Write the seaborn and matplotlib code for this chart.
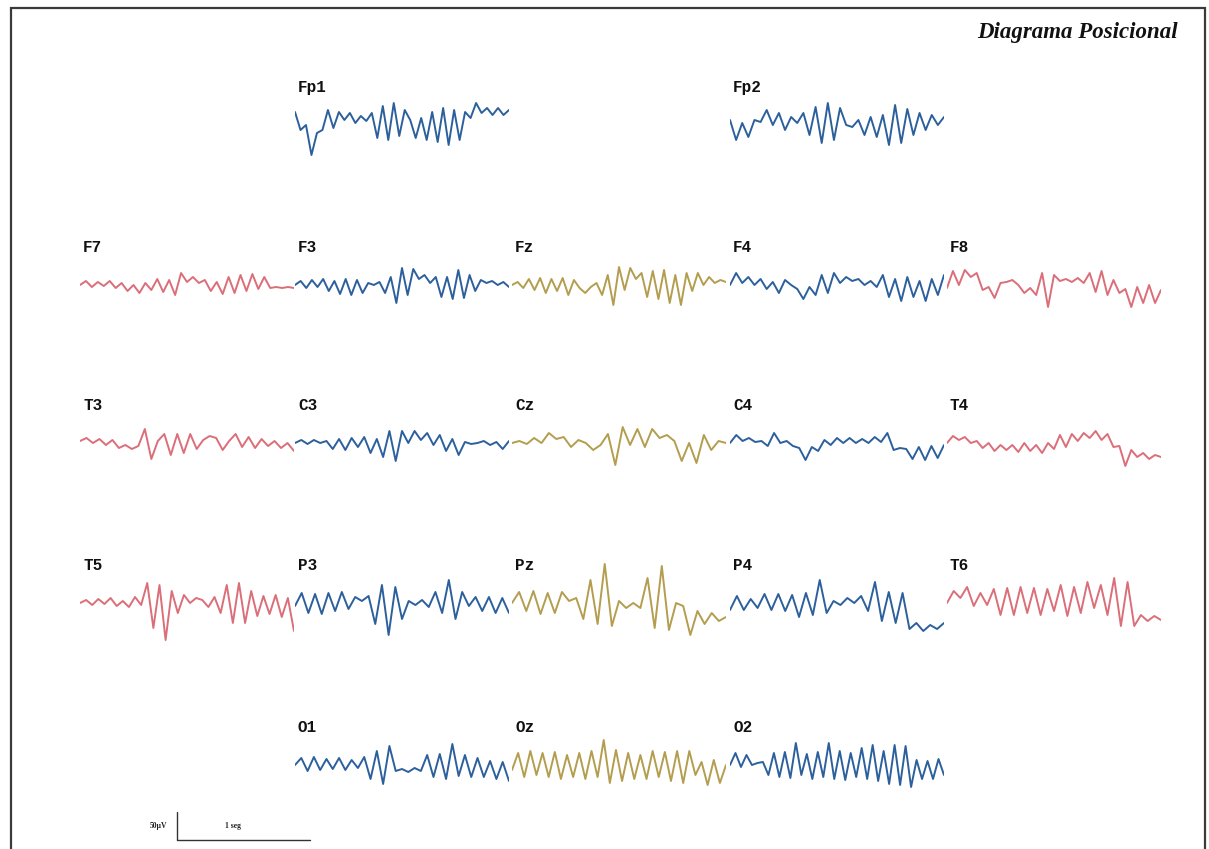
import numpy as np
import matplotlib
matplotlib.use("Agg")
import matplotlib.pyplot as plt
import seaborn as sns

# ---------------- data: EEG deflections (up = positive), evenly sampled over 1.6 s ----------------
FP1 = [13, -5, 0, -30, -8, -5, 15, -3, 13, 5, 12, 2, 9, 4, 12, -13, 19, -15, 22, -11, 15, 5, -13, 7,
       -15, 13, -17, 17, -20, 15, -15, 13, 7, 22, 12, 17, 10, 17, 10, 15]
FP2 = [5, -15, 2, -12, 5, 3, 15, 0, 12, -5, 8, 2, 12, -10, 18, -18, 22, -15, 17, 0, -2, 5, -10, 8,
       -12, 10, -20, 20, -18, 16, -10, 12, -5, 10, 0, 8]
F7 = [0, 4, -2, 3, -1, 4, -3, 2, -6, 0, -8, 2, -5, 6, -7, 5, -10, 12, 3, 8, 2, 5, -6, 3, -9, 8, -8,
      10, -6, 11, -4, 8, -3, -2, -3, -2, -3]
F3 = [0, 4, -3, 5, -2, 6, -6, 4, -9, 6, -10, 5, -8, 2, 0, 3, -8, 8, -18, 17, -10, 16, 6, 10, 2, 8,
      -12, 8, -14, 15, -13, 10, -6, 5, 2, 4, 0, 3, -2]
FZ = [0, 3, -3, 6, -5, 7, -8, 6, -6, 7, -10, 5, -3, -8, -2, 2, -10, 10, -20, 18, -5, 17, 6, 12, -12,
      14, -14, 15, -18, 10, -20, 12, -6, 12, 0, 8, 2, 5, 3]
F4 = [0, 12, 2, 8, 0, 6, -4, 3, -8, 5, 0, -4, -14, -2, -10, 10, -8, 12, 2, 8, 4, 6, 0, 4, -2, 10,
      -12, 6, -16, 8, -12, 4, -16, 6, -10, 10]
F8 = [-3, 14, 0, 15, 8, 12, -5, -2, -13, 2, 3, 5, 0, -8, -3, -10, 12, -22, 10, 4, 6, 3, 7, 2, 12, -7,
      14, -10, 5, -8, -4, -22, -2, -18, 0, -18, -5]
T3 = [2, 5, 0, 4, -2, 3, -5, -2, -6, -3, 14, -16, 2, 9, -12, 9, -10, 9, -6, 3, 7, 5, -7, 2, 9, -4,
      6, -5, 4, -3, 2, -5, 0, -8]
C3 = [0, 3, -1, 3, 0, 2, -6, 4, -7, 5, -4, 6, -10, 4, -14, 12, -18, 12, 0, 12, 3, 10, -2, 8, -8, 4,
      -12, 1, -1, 0, 2, -2, 1, -6, 2]
CZ = [0, 2, -1, 5, 0, 10, 4, 6, -4, 3, 0, -7, -2, 9, -22, 16, -2, 14, -4, 14, 5, 8, 2, -18, 0, -20,
      8, -7, 2, 0]
C4 = [0, 8, 2, 5, 1, 2, -3, 10, 0, 2, -3, -5, -17, -4, -8, 3, -2, 5, 0, 5, 0, 4, 0, 6, 1, 10, -7,
      -5, -6, -16, -4, -17, -3, -15, -2]
T4 = [0, 7, 3, 6, 0, 2, -5, 0, -8, -2, -7, -2, -9, 0, -8, -2, -10, 0, -6, 8, -4, 9, 2, 10, 5, 12,
      3, 9, -4, -3, -23, -7, -14, -10, -16, -12, -14]
T5 = [0, 3, -2, 4, -1, 5, -3, 2, -4, 6, -2, 20, -25, 18, -37, 12, -10, 8, 0, 5, 3, -4, 6, -10, 18,
      -20, 20, -20, 12, -13, 7, -11, 8, -14, 5, -28]
P3 = [-3, 10, -10, 9, -11, 10, -8, 11, -6, 6, 2, 7, -21, 18, -32, 16, -16, 2, -2, 3, -4, 11, -10,
      23, -16, 11, -3, 6, -8, 6, -10, 5, -10]
PZ = [0, 11, -8, 12, -11, 10, -10, 11, 2, 5, -16, 23, -21, 39, -23, 2, -5, 0, -5, 25, -25, 37, -27,
      0, -3, -32, -8, -21, -10, -18, -14]
P4 = [-7, 7, -7, 4, -5, 9, -7, 9, -8, 8, -14, 10, -12, 23, -10, 2, -2, 5, 0, 7, -8, 21, -18, 11,
      -20, 10, -26, -20, -28, -22, -26, -20]
T6 = [0, 12, 5, 16, -3, 10, -2, 14, -12, 15, -12, 16, -10, 15, -12, 14, -8, 18, -13, 16, -10, 21,
      -5, 18, -12, 25, -23, 21, -23, -12, -18, -13, -17]
O1 = [0, 7, -6, 8, -5, 6, -4, 7, -5, 5, -3, 8, -14, 14, -19, 19, -6, -4, -7, -3, -6, 10, -12, 11,
      -14, 21, -11, 10, -12, 7, -12, 4, -14, 3, -16]
OZ = [-5, 12, -12, 14, -10, 12, -12, 13, -14, 10, -12, 12, -14, 14, -12, 25, -18, 15, -16, 12, -14,
      10, -14, 14, -12, 13, -16, 14, -18, 14, -10, 3, -20, 5, -18, 0]
O2 = [0, 12, -2, 10, 0, 2, 3, -10, 12, -12, 13, -13, 22, -10, 11, -14, 13, -12, 22, -14, 14, -15,
      12, -12, 17, -14, 20, -16, 14, -19, 20, -20, 19, -22, 5, -14, 4, -14, 6, -10]

CHANNELS = ["Fp1", "Fp2",
            "F7", "F3", "Fz", "F4", "F8",
            "T3", "C3", "Cz", "C4", "T4",
            "T5", "P3", "Pz", "P4", "T6",
            "O1", "Oz", "O2"]
SERIES = [FP1, FP2, F7, F3, FZ, F4, F8, T3, C3, CZ, C4, T4, T5, P3, PZ, P4, T6, O1, OZ, O2]
# grid position (column, row) of each channel in the positional diagram
GRID = [(1, 0), (3, 0),
        (0, 1), (1, 1), (2, 1), (3, 1), (4, 1),
        (0, 2), (1, 2), (2, 2), (3, 2), (4, 2),
        (0, 3), (1, 3), (2, 3), (3, 3), (4, 3),
        (1, 4), (2, 4), (3, 4)]
GROUP = ["L", "L",
         "T", "L", "M", "L", "T",
         "T", "L", "M", "L", "T",
         "T", "L", "M", "L", "T",
         "L", "M", "L"]

# ---------------- layout / style ----------------
W, H = 1209, 849
COL_X = [80, 295, 512, 730, 947]
ROW_Y = [125, 285, 443, 603, 765]
TRACE_W = 214
HALF_H = 60
DURATION = 1.6
COLORS = {"L": "#2c609c", "T": "#db6e78", "M": "#b39d4e"}

sns.set_style("white")
fig = plt.figure(figsize=(W / 100, H / 100), dpi=100)
fig.patch.set_facecolor("white")

# background axes in pixel units for frame, title, scale bar
bg = fig.add_axes([0, 0, 1, 1])
bg.set_xlim(0, W)
bg.set_ylim(H, 0)
bg.axis("off")
bg.plot([11, 11, 1205, 1205], [H, 8, 8, H], color="#3a3a3a", lw=1.6, solid_joinstyle="miter")
bg.text(1178, 32, "Diagrama Posicional", ha="right", va="center",
        family="Liberation Serif", style="italic", weight="bold", fontsize=16.5, color="#111111")

# scale bar
bg.plot([177, 177, 310], [812, 840, 840], color="#333333", lw=1.0)
bg.text(158, 826, "50µV", ha="center", va="center", family="Liberation Serif",
        weight="bold", fontsize=5.5, color="#222222")
bg.text(233, 826, "1 seg", ha="center", va="center", family="Liberation Serif",
        weight="bold", fontsize=5.5, color="#222222")

for name, vals, (c, r), g in zip(CHANNELS, SERIES, GRID, GROUP):
    x0 = COL_X[c]
    yb = ROW_Y[r]
    ax = fig.add_axes([x0 / W, 1 - (yb + HALF_H) / H, TRACE_W / W, 2 * HALF_H / H])
    ax.patch.set_alpha(0)
    t = np.linspace(0, DURATION, len(vals))
    sns.lineplot(x=t, y=vals, ax=ax, color=COLORS[g], linewidth=1.4,
                 estimator=None, sort=False, solid_joinstyle="round", solid_capstyle="round")
    ax.set_xlim(0, DURATION)
    ax.set_ylim(-HALF_H, HALF_H)
    ax.axis("off")
    bg.text(x0 + 3, yb - 38, name, ha="left", va="center", family="Liberation Mono",
            weight="bold", fontsize=11.5, color="#111111")

fig.savefig("out.png", dpi=100, facecolor="white")
